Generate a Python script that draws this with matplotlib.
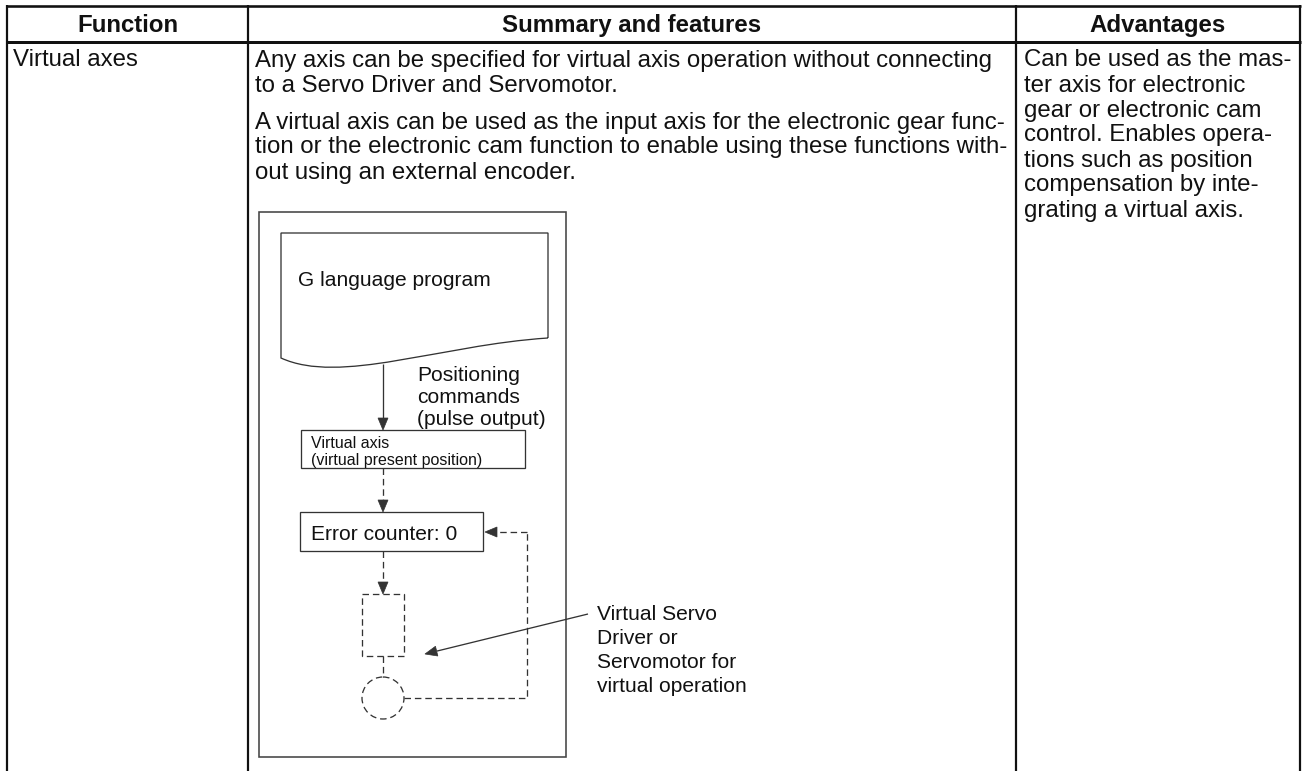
import math
import matplotlib
matplotlib.use("Agg")
import matplotlib.pyplot as plt
from matplotlib.patches import Rectangle, Circle, Polygon, PathPatch
from matplotlib.path import Path

# ---------------- content ----------------
header_labels = ["Function", "Summary and features", "Advantages"]
function_lines = ["Virtual axes"]
summary_para1 = [
    "Any axis can be specified for virtual axis operation without connecting",
    "to a Servo Driver and Servomotor.",
]
summary_para2 = [
    "A virtual axis can be used as the input axis for the electronic gear func-",
    "tion or the electronic cam function to enable using these functions with-",
    "out using an external encoder.",
]
advantages_lines = [
    "Can be used as the mas-",
    "ter axis for electronic",
    "gear or electronic cam",
    "control. Enables opera-",
    "tions such as position",
    "compensation by inte-",
    "grating a virtual axis.",
]
doc_label = "G language program"
command_lines = ["Positioning", "commands", "(pulse output)"]
vaxis_lines = ["Virtual axis", "(virtual present position)"]
counter_label = "Error counter: 0"
servo_lines = ["Virtual Servo", "Driver or", "Servomotor for", "virtual operation"]

# ---------------- figure setup ----------------
W, H, DPI = 1305, 771, 100
PX = 72.0 / DPI  # points per pixel
plt.rcParams["font.family"] = ["Liberation Sans", "DejaVu Sans"]

fig = plt.figure(figsize=(W / DPI, H / DPI), dpi=DPI)
ax = fig.add_axes([0, 0, 1, 1])
ax.set_xlim(0, W)
ax.set_ylim(H, 0)
ax.axis("off")

INK = "#111111"
DIA = "#333333"
BODY_PX = 24
DIA_PX = 21
SMALL_PX = 16

# ---------------- table grid ----------------
col_x = [7, 248, 1016, 1300]
top_y, head_y = 5.5, 41.5
ax.plot([col_x[0] - 1, col_x[-1] + 1], [top_y, top_y], color=INK, lw=2.6 * PX, solid_capstyle="butt")
ax.plot([col_x[0] - 1, col_x[-1] + 1], [head_y, head_y], color=INK, lw=3.0 * PX, solid_capstyle="butt")
for x in col_x:
    ax.plot([x, x], [top_y - 1, H + 2], color=INK, lw=2.2 * PX, solid_capstyle="butt")

# header
for i, lab in enumerate(header_labels):
    cx = (col_x[i] + col_x[i + 1]) / 2
    ax.text(cx, 32, lab, ha="center", va="baseline", fontsize=BODY_PX * PX,
            fontweight="bold", color=INK)

def text_lines(x, y0, lines, pitch, size_px, **kw):
    for k, s in enumerate(lines):
        ax.text(x, y0 + k * pitch, s, ha="left", va="baseline",
                fontsize=size_px * PX, color=INK, **kw)

PITCH = 25
BASE1 = 66.5
text_lines(col_x[0] + 6, BASE1, function_lines, PITCH, BODY_PX)
text_lines(col_x[1] + 7, BASE1, summary_para1, PITCH, BODY_PX)
text_lines(col_x[1] + 7, BASE1 + 2 * PITCH + 12, summary_para2, PITCH, BODY_PX)
text_lines(col_x[2] + 8, BASE1, advantages_lines, PITCH, BODY_PX)

# ---------------- diagram ----------------
LW = 1.3 * PX
DASH = (0, (5.0, 3.0))

def seg(xs, ys, dashed=False, color=DIA):
    ax.plot(xs, ys, color=color, lw=LW, linestyle=DASH if dashed else "-",
            solid_capstyle="butt", dash_capstyle="butt")

def arrow(x0, y0, x1, y1, dashed=False, hl=12, hw=5):
    dx, dy = x1 - x0, y1 - y0
    L = math.hypot(dx, dy)
    ux, uy = dx / L, dy / L
    bx, by = x1 - ux * hl, y1 - uy * hl
    seg([x0, bx], [y0, by], dashed=dashed)
    tri = [(x1, y1), (bx - uy * hw, by + ux * hw), (bx + uy * hw, by - ux * hw)]
    ax.add_patch(Polygon(tri, closed=True, fc=DIA, ec=DIA, lw=0.5))

# outer frame
frame_top, frame_bot = 212, 757
ax.add_patch(Rectangle((259, frame_top), 566 - 259, frame_bot - frame_top,
                       fill=False, ec="#444444", lw=1.6 * PX))

# document shape
dl, dr, dt = 281, 548, frame_top + 21
dlb, drb = 358, 338
verts = [(dr, drb), (dr, dt), (dl, dt), (dl, dlb),
         (340, 385), (440, 345), (dr, drb)]
codes = [Path.MOVETO, Path.LINETO, Path.LINETO, Path.LINETO,
         Path.CURVE4, Path.CURVE4, Path.CURVE4]
ax.add_patch(PathPatch(Path(verts, codes), fill=False, ec=DIA, lw=LW))
ax.text(298, dt + 45 + 0.358 * DIA_PX, doc_label, ha="left", va="baseline",
        fontsize=DIA_PX * PX, color=INK)

ax_x = 383
# solid arrow doc -> virtual axis box
arrow(ax_x, 364, ax_x, 430)
text_lines(417, 373 + 0.358 * DIA_PX, command_lines, 22, DIA_PX)

# virtual axis box
ax.add_patch(Rectangle((301, 430), 525 - 301, 468 - 430, fill=False, ec=DIA, lw=LW))
text_lines(311, 442 + 0.358 * SMALL_PX, vaxis_lines, 17, SMALL_PX)

# dashed arrow to error counter
arrow(ax_x, 468, ax_x, 512, dashed=True)
ax.add_patch(Rectangle((300, 512), 483 - 300, 551 - 512, fill=False, ec=DIA, lw=LW))
ax.text(311, 532 + 0.358 * DIA_PX, counter_label, ha="left", va="baseline",
        fontsize=DIA_PX * PX, color=INK)

# dashed arrow to virtual servo driver
arrow(ax_x, 551, ax_x, 594, dashed=True)
ax.add_patch(Rectangle((362, 594), 404 - 362, 656 - 594, fill=False, ec=DIA,
                       lw=LW, linestyle=DASH))
seg([ax_x, ax_x], [656, 677], dashed=True)
ax.add_patch(Circle((ax_x, 698), 21, fill=False, ec=DIA, lw=LW, linestyle=DASH))

# feedback loop
seg([404, 527, 527], [698, 698, 532], dashed=True)
arrow(527, 532, 485, 532, dashed=True)

# leader arrow + label
arrow(588, 614, 425, 654)
text_lines(597, 612 + 0.358 * DIA_PX, servo_lines, 24, DIA_PX)

fig.savefig("out.png", dpi=DPI)
